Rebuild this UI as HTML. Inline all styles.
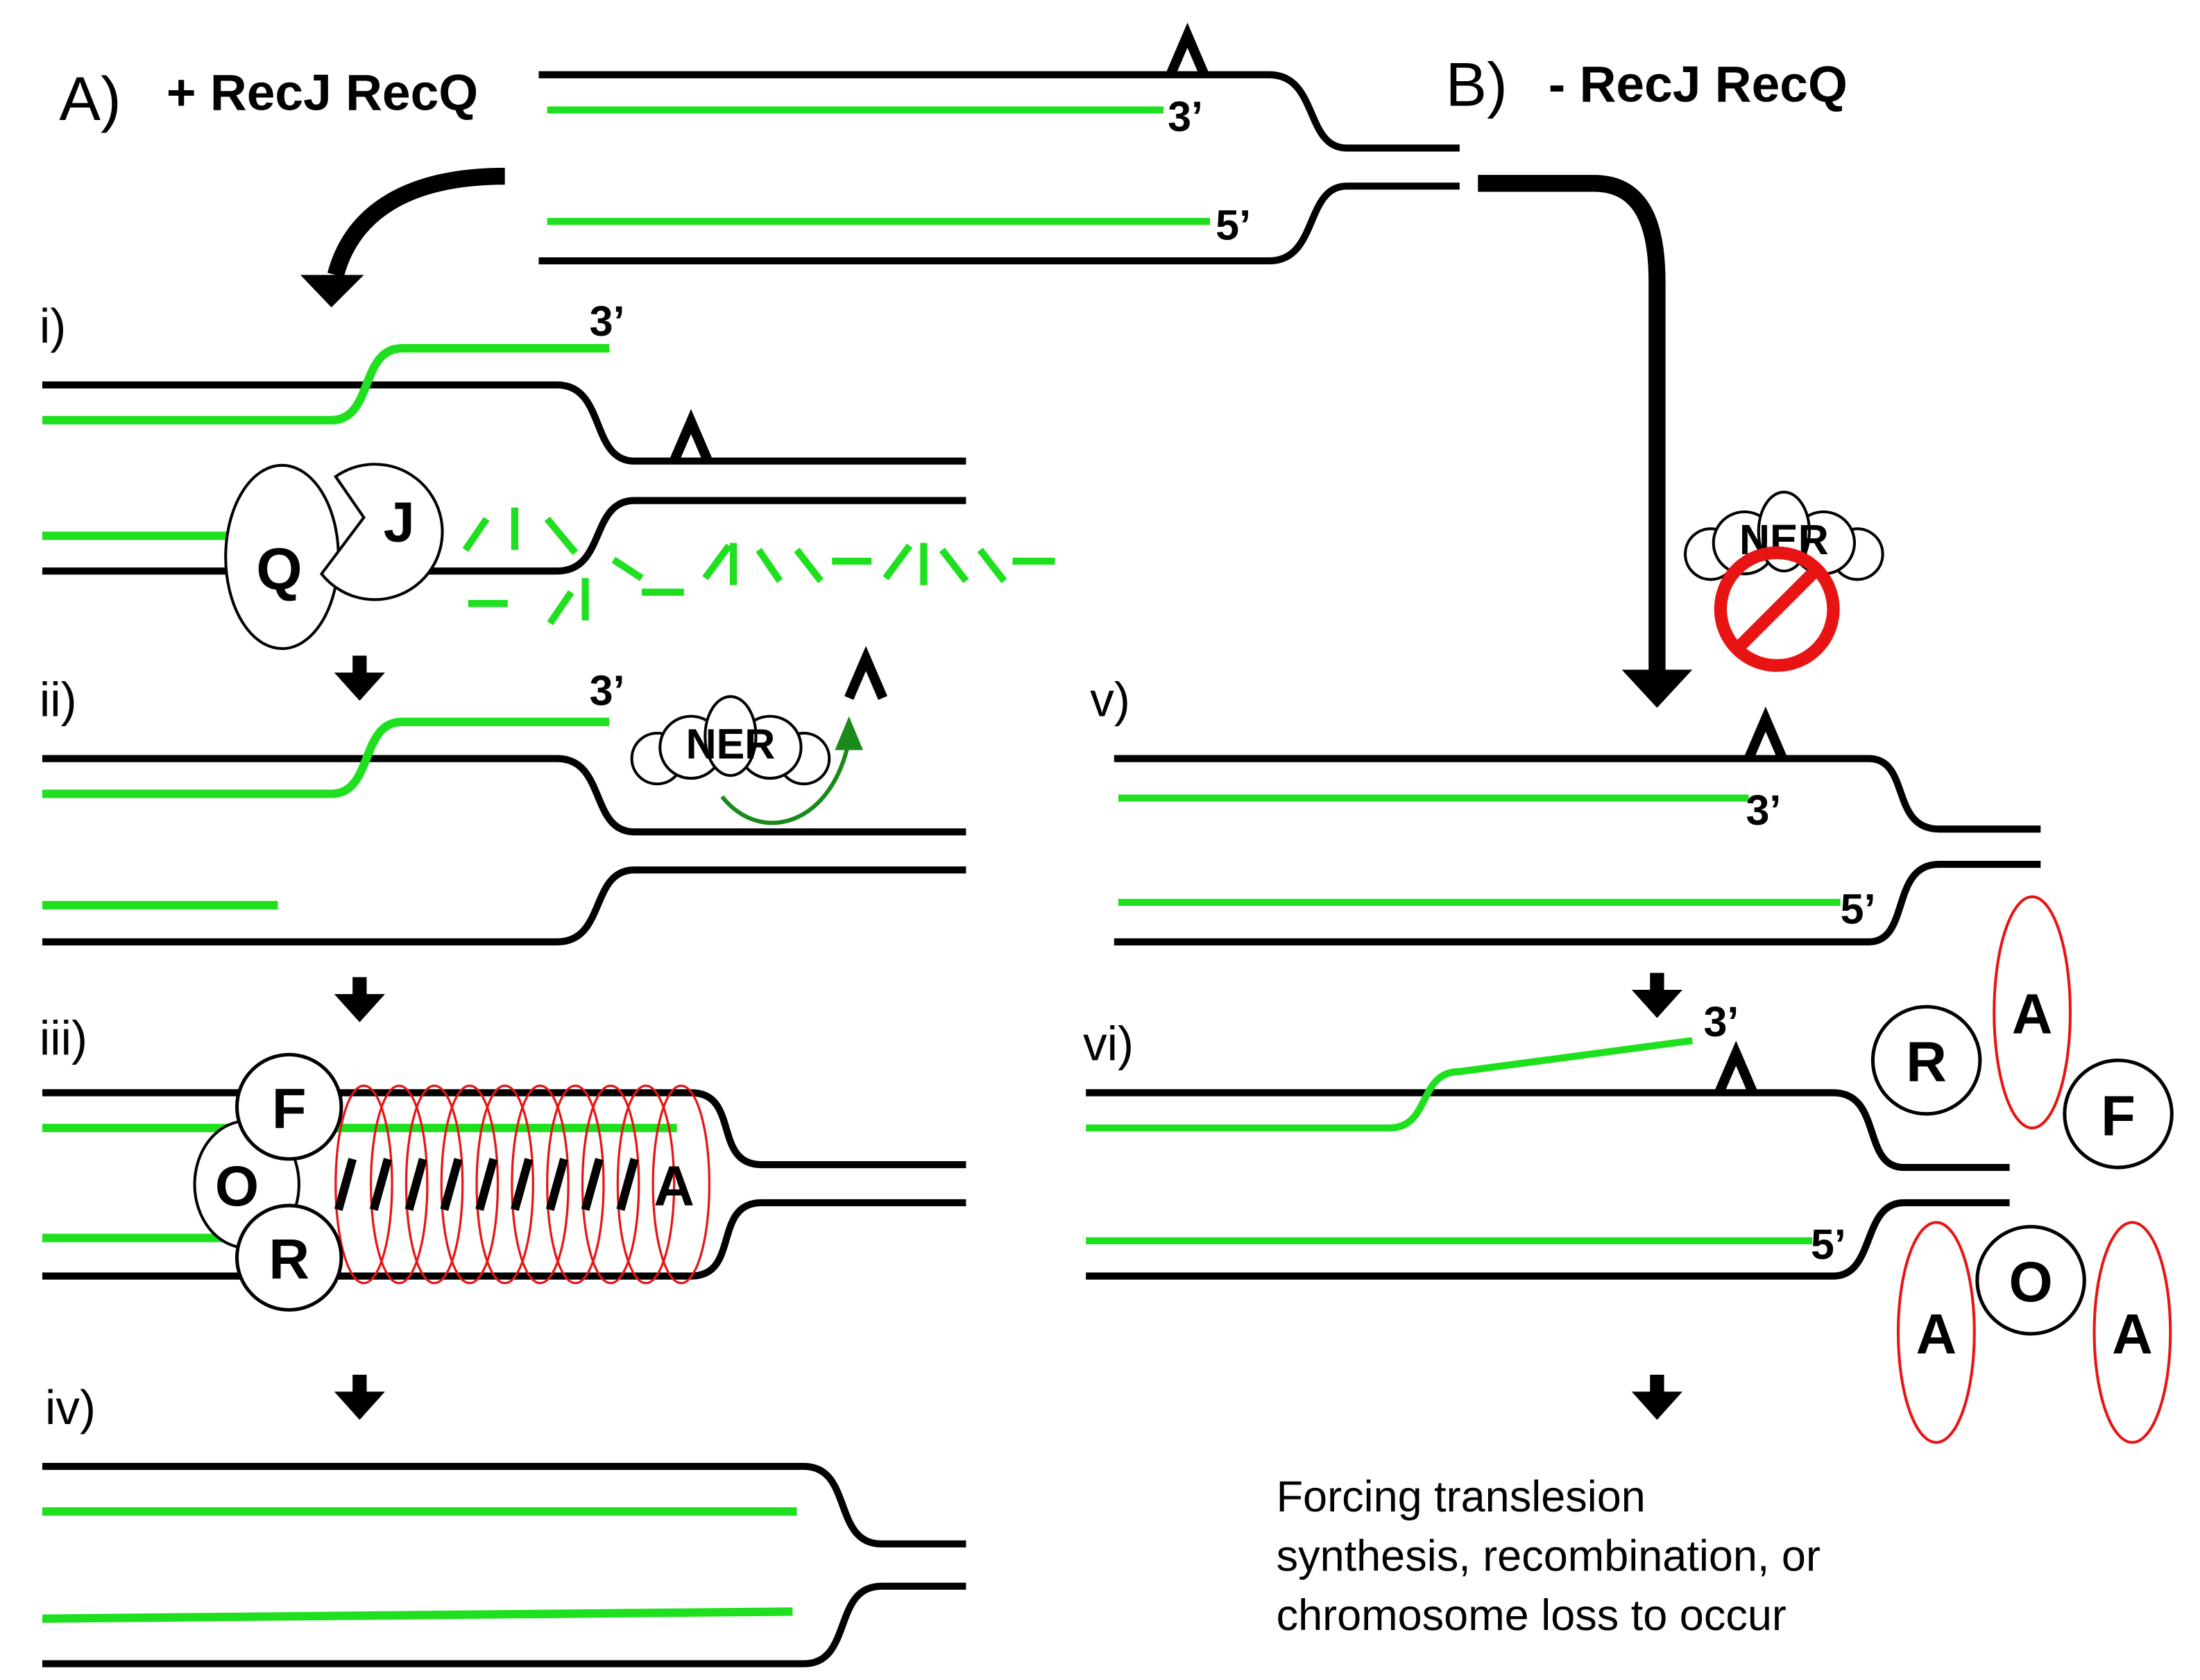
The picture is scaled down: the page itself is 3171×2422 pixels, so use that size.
<!DOCTYPE html>
<html><head><style>html,body{margin:0;padding:0;background:#fff}svg{display:block}</style></head><body>
<svg width="3171" height="2422" viewBox="0 0 1560 1191.5" xmlns="http://www.w3.org/2000/svg" font-family="Liberation Sans, sans-serif">
<defs>
<g id="les"><path d="M-12,0 L0,-28 L12,0" fill="none" stroke="#000" stroke-width="7"/></g>
<g id="sarrow"><rect x="-5" y="0" width="10" height="14" fill="#000"/><path d="M-18,12 L18,12 L0,32 Z" fill="#000"/></g>
<g id="ner">
<circle cx="-52" cy="8" r="18" fill="#fff" stroke="#000" stroke-width="2"/>
<circle cx="52" cy="8" r="18" fill="#fff" stroke="#000" stroke-width="2"/>
<circle cx="-28" cy="0" r="22" fill="#fff" stroke="#000" stroke-width="2"/>
<circle cx="28" cy="0" r="22" fill="#fff" stroke="#000" stroke-width="2"/>
<ellipse cx="0" cy="-8" rx="18" ry="28" fill="#fff" stroke="#000" stroke-width="2"/>
<text x="0" y="8" font-size="30" font-weight="bold" text-anchor="middle">NER</text>
</g>
</defs>
<g fill="none" stroke-linecap="butt">
<path d="M382,53 H900 C935,53 925,105 955,105 H1035" stroke="#000" stroke-width="5"/>
<path d="M382,185 H900 C935,185 925,132 955,132 H1035" stroke="#000" stroke-width="5"/>
<path d="M388,78 H825" stroke="#1ee01e" stroke-width="5"/>
<path d="M388,157 H858" stroke="#1ee01e" stroke-width="5"/>
<path d="M358,125 C290,125 250,150 238,195" stroke="#000" stroke-width="12"/>
<path d="M1048,130 H1130 C1165,130 1175,160 1175,200 V478" stroke="#000" stroke-width="12"/>
<path d="M30,273 H395 C430,273 418,327 450,327 H685" stroke="#000" stroke-width="5"/>
<path d="M30,405 H395 C430,405 418,355 450,355 H685" stroke="#000" stroke-width="5"/>
<path d="M30,298 H235 C265,298 255,247 285,247 H432" stroke="#1ee01e" stroke-width="6"/>
<path d="M30,380 H165" stroke="#1ee01e" stroke-width="6"/>
<g stroke="#1ee01e" stroke-width="5">
<path d="M330,390 L345,368"/><path d="M365,360 V390"/><path d="M388,368 L408,392"/>
<path d="M332,428 H360"/><path d="M390,442 L405,420"/><path d="M415,410 V440"/>
<path d="M435,397 L455,410"/><path d="M455,420 H485"/>
<path d="M500,410 L517,387"/><path d="M520,385 V415"/><path d="M538,390 L553,412"/><path d="M565,390 L582,412"/>
<path d="M590,398 H618"/><path d="M628,410 L645,387"/><path d="M655,385 V415"/><path d="M668,390 L685,412"/><path d="M695,390 L712,412"/><path d="M718,398 H748"/>
</g>
<path d="M30,538 H395 C430,538 418,590 450,590 H685" stroke="#000" stroke-width="5"/>
<path d="M30,668 H395 C430,668 418,617 450,617 H685" stroke="#000" stroke-width="5"/>
<path d="M30,563 H235 C265,563 255,512 285,512 H432" stroke="#1ee01e" stroke-width="6"/>
<path d="M30,642 H197" stroke="#1ee01e" stroke-width="6"/>
<path d="M30,775 H490 C525,775 505,826 540,826 H685" stroke="#000" stroke-width="5"/>
<path d="M30,905 H490 C525,905 505,853 540,853 H685" stroke="#000" stroke-width="5"/>
<path d="M30,800 H480" stroke="#1ee01e" stroke-width="6"/>
<path d="M30,878 H165" stroke="#1ee01e" stroke-width="6"/>
<path d="M30,1040 H570 C605,1040 590,1095 625,1095 H685" stroke="#000" stroke-width="5"/>
<path d="M30,1180 H570 C605,1180 590,1125 625,1125 H685" stroke="#000" stroke-width="5"/>
<path d="M30,1072 H565" stroke="#1ee01e" stroke-width="6"/>
<path d="M30,1148 L562,1143" stroke="#1ee01e" stroke-width="6"/>
<path d="M790,538 H1325 C1355,538 1340,588 1375,588 H1447" stroke="#000" stroke-width="5"/>
<path d="M790,668 H1325 C1355,668 1340,613 1375,613 H1447" stroke="#000" stroke-width="5"/>
<path d="M793,566 H1240" stroke="#1ee01e" stroke-width="5"/>
<path d="M793,640 H1305" stroke="#1ee01e" stroke-width="5"/>
<path d="M770,775 H1300 C1335,775 1320,828 1350,828 H1425" stroke="#000" stroke-width="5"/>
<path d="M770,905 H1300 C1330,905 1320,853 1350,853 H1425" stroke="#000" stroke-width="5"/>
<path d="M770,800 H985 C1015,800 1005,760 1035,760 L1200,738" stroke="#1ee01e" stroke-width="5"/>
<path d="M770,880 H1285" stroke="#1ee01e" stroke-width="5"/>
</g>
<path d="M213,195 L258,195 L235,218 Z" fill="#000"/>
<path d="M1150,475 L1200,475 L1175,502 Z" fill="#000"/>
<use href="#les" x="842" y="53"/>
<use href="#les" x="490" y="327"/>
<use href="#les" x="614" y="495"/>
<use href="#les" x="1252" y="538"/>
<use href="#les" x="1231" y="775"/>
<use href="#sarrow" x="255" y="465"/>
<use href="#sarrow" x="255" y="693"/>
<use href="#sarrow" x="255" y="975"/>
<use href="#sarrow" x="1175" y="690"/>
<use href="#sarrow" x="1175" y="975"/>
<text x="42" y="85" font-size="44">A)</text>
<text x="118" y="78" font-size="36" font-weight="bold">+ RecJ RecQ</text>
<text x="1025" y="75" font-size="44">B)</text>
<text x="1098" y="72" font-size="36" font-weight="bold">- RecJ RecQ</text>
<g font-size="30" font-weight="bold">
<text x="828" y="93">3’</text><text x="862" y="170">5’</text>
<text x="418" y="238">3’</text><text x="418" y="500">3’</text>
<text x="1238" y="585">3’</text><text x="1305" y="655">5’</text>
<text x="1208" y="735">3’</text><text x="1284" y="893">5’</text>
</g>
<g font-size="34">
<text x="28" y="243">i)</text><text x="28" y="508">ii)</text><text x="28" y="748">iii)</text><text x="32" y="1010">iv)</text>
<text x="773" y="508">v)</text><text x="768" y="752">vi)</text>
</g>
<ellipse cx="200" cy="395" rx="40" ry="65" fill="#fff" stroke="#000" stroke-width="2"/>
<text x="198" y="418" font-size="42" font-weight="bold" text-anchor="middle">Q</text>
<path d="M238,338 A48,48 0 1 1 228,407 L258,367 Z" fill="#fff" stroke="#000" stroke-width="2"/>
<text x="283" y="384" font-size="40" font-weight="bold" text-anchor="middle">J</text>
<use href="#ner" x="518" y="530"/>
<path d="M512,565 C540,600 590,585 602,525" fill="none" stroke="#1a8a1a" stroke-width="3"/>
<path d="M592,532 L602,508 L612,532 Z" fill="#1a8a1a"/>
<use href="#ner" x="1265" y="385"/>
<circle cx="1260" cy="432" r="40" fill="none" stroke="#e81414" stroke-width="9"/>
<path d="M1232,460 L1288,404" stroke="#e81414" stroke-width="9"/>
<g fill="none" stroke="#e81414" stroke-width="1.6">
<ellipse cx="258" cy="840" rx="20" ry="70"/><ellipse cx="283" cy="840" rx="20" ry="70"/><ellipse cx="308" cy="840" rx="20" ry="70"/><ellipse cx="333" cy="840" rx="20" ry="70"/><ellipse cx="358" cy="840" rx="20" ry="70"/><ellipse cx="383" cy="840" rx="20" ry="70"/><ellipse cx="408" cy="840" rx="20" ry="70"/><ellipse cx="433" cy="840" rx="20" ry="70"/><ellipse cx="458" cy="840" rx="20" ry="70"/><ellipse cx="483" cy="840" rx="20" ry="70"/>
</g>
<g stroke="#000" stroke-width="6">
<path d="M240,858 L250,822"/><path d="M265,858 L275,822"/><path d="M290,858 L300,822"/><path d="M315,858 L325,822"/><path d="M340,858 L350,822"/><path d="M365,858 L375,822"/><path d="M390,858 L400,822"/><path d="M415,858 L425,822"/><path d="M440,858 L450,822"/>
</g>
<text x="478" y="855" font-size="40" font-weight="bold" text-anchor="middle">A</text>
<ellipse cx="175" cy="840" rx="37" ry="45" fill="#fff" stroke="#000" stroke-width="2"/>
<text x="168" y="855" font-size="40" font-weight="bold" text-anchor="middle">O</text>
<circle cx="205" cy="785" r="37" fill="#fff" stroke="#000" stroke-width="2.5"/>
<text x="205" y="800" font-size="40" font-weight="bold" text-anchor="middle">F</text>
<circle cx="205" cy="892" r="37" fill="#fff" stroke="#000" stroke-width="2.5"/>
<text x="205" y="907" font-size="40" font-weight="bold" text-anchor="middle">R</text>
<circle cx="1366" cy="752" r="38" fill="#fff" stroke="#000" stroke-width="2.5"/>
<text x="1366" y="767" font-size="40" font-weight="bold" text-anchor="middle">R</text>
<ellipse cx="1441" cy="718" rx="27" ry="82" fill="#fff" stroke="#e81414" stroke-width="2"/>
<text x="1441" y="733" font-size="40" font-weight="bold" text-anchor="middle">A</text>
<circle cx="1502" cy="790" r="38" fill="#fff" stroke="#000" stroke-width="2.5"/>
<text x="1502" y="805" font-size="40" font-weight="bold" text-anchor="middle">F</text>
<circle cx="1440" cy="908" r="38" fill="#fff" stroke="#000" stroke-width="2.5"/>
<text x="1440" y="923" font-size="40" font-weight="bold" text-anchor="middle">O</text>
<ellipse cx="1373" cy="945" rx="27" ry="78" fill="#fff" stroke="#e81414" stroke-width="2"/>
<text x="1373" y="960" font-size="40" font-weight="bold" text-anchor="middle">A</text>
<ellipse cx="1512" cy="945" rx="27" ry="78" fill="#fff" stroke="#e81414" stroke-width="2"/>
<text x="1512" y="960" font-size="40" font-weight="bold" text-anchor="middle">A</text>
<g font-size="31">
<text x="905" y="1072">Forcing translesion</text>
<text x="905" y="1114">synthesis, recombination, or</text>
<text x="905" y="1156">chromosome loss to occur</text>
</g>
</svg>
</body></html>
